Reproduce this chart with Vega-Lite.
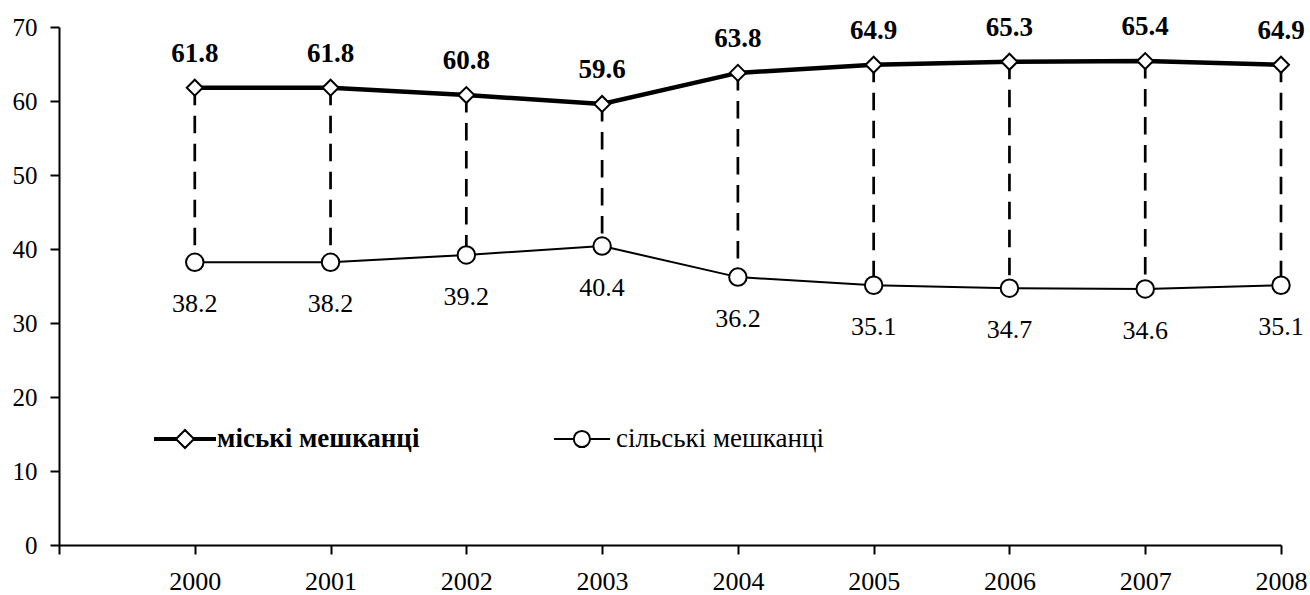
{
  "$schema": "https://vega.github.io/schema/vega-lite/v6.json",
  "width": 1222,
  "height": 518,
  "autosize": {"type": "none"},
  "padding": {"left": 59, "top": 27, "right": 29, "bottom": 50},
  "background": "white",
  "config": {
    "view": {"stroke": null},
    "font": "Liberation Serif",
    "axis": {
      "grid": false,
      "domainColor": "black",
      "domainWidth": 2,
      "tickColor": "black",
      "tickWidth": 2,
      "tickSize": 9,
      "labelFont": "Liberation Serif",
      "labelFontSize": 25,
      "labelColor": "black"
    }
  },
  "data": {
    "values": [
      {"year": 2000, "urban": 61.8, "rural": 38.2},
      {"year": 2001, "urban": 61.8, "rural": 38.2},
      {"year": 2002, "urban": 60.8, "rural": 39.2},
      {"year": 2003, "urban": 59.6, "rural": 40.4},
      {"year": 2004, "urban": 63.8, "rural": 36.2},
      {"year": 2005, "urban": 64.9, "rural": 35.1},
      {"year": 2006, "urban": 65.3, "rural": 34.7},
      {"year": 2007, "urban": 65.4, "rural": 34.6},
      {"year": 2008, "urban": 64.9, "rural": 35.1}
    ]
  },
  "encoding": {
    "x": {
      "field": "year",
      "type": "quantitative",
      "title": null,
      "scale": {"domain": [1999, 2008], "nice": false, "zero": false},
      "axis": {
        "values": [1999, 2000, 2001, 2002, 2003, 2004, 2005, 2006, 2007, 2008],
        "format": "d",
        "labelExpr": "datum.value == 1999 ? '' : datum.label",
        "labelFlush": false,
        "labelOverlap": false,
        "labelBaseline": "alphabetic",
        "labelFontSize": 26,
        "labelPadding": 35
      }
    }
  },
  "layer": [
    {
      "mark": {"type": "rule", "color": "black", "strokeWidth": 2.7, "strokeDash": [17.5, 10.5]},
      "encoding": {
        "y": {
          "field": "urban",
          "type": "quantitative",
          "title": null,
          "scale": {"domain": [0, 70], "nice": false},
          "axis": {"values": [0, 10, 20, 30, 40, 50, 60, 70], "labelPadding": 13, "labelBaseline": "middle"}
        },
        "y2": {"field": "rural"}
      }
    },
    {
      "mark": {"type": "line", "color": "black", "strokeWidth": 4.5},
      "encoding": {"y": {"field": "urban", "type": "quantitative", "title": null}}
    },
    {
      "mark": {"type": "line", "color": "black", "strokeWidth": 2},
      "encoding": {"y": {"field": "rural", "type": "quantitative", "title": null}}
    },
    {
      "transform": [{"fold": ["urban", "rural"], "as": ["key", "val"]}],
      "mark": {"type": "point", "size": 40, "filled": false, "color": "black", "strokeWidth": 2, "opacity": 1},
      "encoding": {
        "y": {"field": "val", "type": "quantitative", "title": null},
        "shape": {
          "field": "key",
          "type": "nominal",
          "scale": {
            "domain": ["urban", "rural"],
            "range": [
              "M-1,-0.033H-0.3V0.033H-1Z M0.3,-0.033H1V0.033H0.3Z M-0.3,0L0,-0.3L0.3,0L0,0.3Z",
              "M-1,0H-0.34 M0.2,0H0.87 M0.2,0C0.2,0.149 0.079,0.27 -0.07,0.27 C-0.219,0.27 -0.34,0.149 -0.34,0 C-0.34,-0.149 -0.219,-0.27 -0.07,-0.27 C0.079,-0.27 0.2,-0.149 0.2,0Z"
            ]
          },
          "legend": {
            "orient": "none",
            "legendX": 95,
            "legendY": 381,
            "direction": "horizontal",
            "title": null,
            "padding": 0,
            "labelExpr": "datum.value == 'urban' ? 'міські мешканці' : 'сільські мешканці'",
            "labelFontWeight": {"expr": "datum.value == 'urban' ? 'bold' : 'normal'"},
            "symbolSize": 3600,
            "symbolStrokeWidth": 2,
            "symbolFillColor": "white",
            "symbolStrokeColor": "black",
            "symbolOpacity": 1,
            "labelFont": "Liberation Serif",
            "labelFontSize": 27,
            "labelColor": "black",
            "labelOffset": 1,
            "labelLimit": 500,
            "columnPadding": 130
          }
        }
      }
    },
    {
      "mark": {"type": "point", "shape": "diamond", "size": 256, "filled": true, "fill": "white", "stroke": "black", "strokeWidth": 2, "opacity": 1},
      "encoding": {"y": {"field": "urban", "type": "quantitative", "title": null}}
    },
    {
      "mark": {"type": "point", "shape": "circle", "size": 306, "filled": true, "fill": "white", "stroke": "black", "strokeWidth": 2, "opacity": 1},
      "encoding": {"y": {"field": "rural", "type": "quantitative", "title": null}}
    },
    {
      "mark": {"type": "text", "dy": -26, "baseline": "alphabetic", "fontWeight": "bold", "fontSize": 27, "font": "Liberation Serif", "color": "black"},
      "encoding": {
        "y": {"field": "urban", "type": "quantitative", "title": null},
        "text": {"field": "urban", "type": "quantitative", "format": ".1f"}
      }
    },
    {
      "mark": {"type": "text", "dy": 50, "baseline": "alphabetic", "fontSize": 26, "font": "Liberation Serif", "color": "black"},
      "encoding": {
        "y": {"field": "rural", "type": "quantitative", "title": null},
        "text": {"field": "rural", "type": "quantitative", "format": ".1f"}
      }
    }
  ]
}
